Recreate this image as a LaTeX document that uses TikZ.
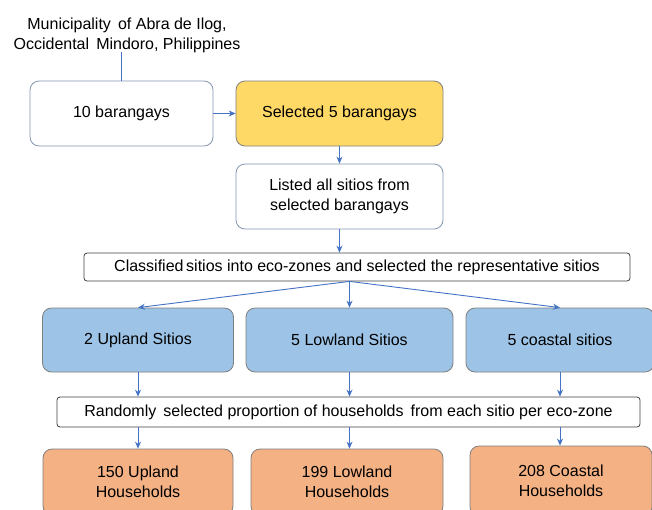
\documentclass[tikz,border=0pt]{standalone}
\usepackage{fontspec}
\setmainfont{Liberation Sans}
\usetikzlibrary{arrows.meta}
\definecolor{arr}{HTML}{4472C4}
\definecolor{wbord}{HTML}{8497B0}
\definecolor{gbord}{HTML}{7F7F7F}
\definecolor{yel}{HTML}{FFD966}
\definecolor{blu}{HTML}{9DC3E6}
\definecolor{ora}{HTML}{F4B183}
\begin{document}
\begin{tikzpicture}[x=1pt,y=-1pt,
  every node/.style={font=\fontsize{16}{20}\selectfont, align=center, inner sep=0pt},
  box/.style={draw=wbord, line width=0.8pt, rounded corners=9pt},
  wbox/.style={box, fill=white},
  ybox/.style={box, draw=gbord, fill=yel},
  bbox/.style={box, draw=gbord, fill=blu},
  obox/.style={box, draw=gbord, fill=ora},
  bar/.style={draw=black!75, line width=0.8pt, rounded corners=3pt, fill=white},
  conn/.style={draw=arr, line width=0.9pt, -{Stealth[length=7pt,width=6pt]}},
  plain/.style={draw=arr, line width=0.8pt}]
\useasboundingbox (0,0) rectangle (652,509);
\node (title) at (127,35) {Municipality\, of Abra de Ilog,\\Occidental\, Mindoro, Philippines};
\node[wbox, minimum width=183pt, minimum height=65pt] (ten) at (121.5,113.5) {10 barangays};
\node[ybox, minimum width=207pt, minimum height=65pt] (sel) at (339.5,113.5) {Selected 5 barangays};
\node[wbox, minimum width=207pt, minimum height=65pt] (lst) at (339.5,196.5) {Listed all sitios from\\selected barangays};
\node[bar, minimum width=546pt, minimum height=28pt] (cls) at (357,267) {Classified\,sitios into eco-zones and selected the representative sitios};
\node[bbox, minimum width=191pt, minimum height=64pt] (b1) at (138,340) {2 Upland Sitios};
\node[bbox, minimum width=207pt, minimum height=64pt] (b2) at (349.5,340) {5 Lowland Sitios};
\node[bbox, minimum width=188pt, minimum height=64pt] (b3) at (560,340) {5 coastal sitios};
\node[bar, minimum width=583pt, minimum height=30pt] (rnd) at (348.5,412) {Randomly\, selected proportion of households\, from each sitio per eco-zone};
\node[obox, minimum width=190pt, minimum height=66pt] (o1) at (138,482) {150 Upland\\Households};
\node[obox, minimum width=192pt, minimum height=66pt] (o2) at (347,482) {199 Lowland\\Households};
\node[obox, minimum width=182pt, minimum height=70pt] (o3) at (561,481) {208 Coastal\\Households};
\draw[plain] (ten.north) -- (ten.north |- 0,52);
\draw[conn] (ten.east) -- (sel.west);
\draw[conn] (sel.south) -- (lst.north);
\draw[conn] (lst.south) -- (lst.south |- cls.north);
\coordinate (split) at (cls.south -| b2.north);
\draw[conn] (split) -- (b1.north);
\draw[conn] (split) -- (b2.north);
\draw[conn] (split) -- (b3.north);
\draw[conn] (b1.south) -- (b1.south |- rnd.north);
\draw[conn] (b2.south) -- (b2.south |- rnd.north);
\draw[conn] (b3.south) -- (b3.south |- rnd.north);
\draw[conn] (rnd.south -| b1.south) -- (b1.south |- o1.north);
\draw[conn] (rnd.south -| b2.south) -- (b2.south |- o2.north);
\draw[conn] (rnd.south -| b3.south) -- (b3.south |- o3.north);
\end{tikzpicture}
\end{document}
